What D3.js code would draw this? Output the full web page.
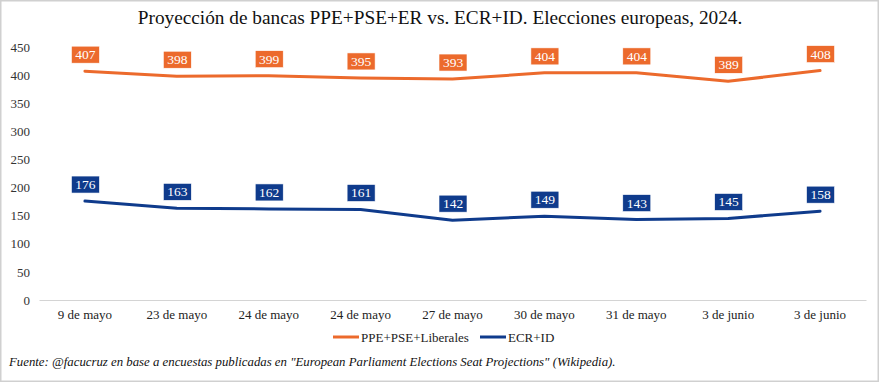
<!DOCTYPE html>
<html><head><meta charset="utf-8">
<script src="https://cdn.jsdelivr.net/npm/d3@7"></script>
<style>body{margin:0;background:#fff}svg{display:block}svg text{font-family:"Liberation Serif","DejaVu Serif",serif}</style>
</head><body>
<script>
const categories = ["9 de mayo","23 de mayo","24 de mayo","24 de mayo","27 de mayo","30 de mayo","31 de mayo","3 de junio","3 de junio"];
const ppe = [407,398,399,395,393,404,404,389,408];
const ecr = [176,163,162,161,142,149,143,145,158];
const yTicks = [0,50,100,150,200,250,300,350,400,450];
const seriesNames = ["PPE+PSE+Liberales","ECR+ID"];
const colors = ["#EC6A2C","#0F3B8C"];

const W=880,H=383;
const svg=d3.select("body").append("svg").attr("width",W).attr("height",H);
svg.append("rect").attr("x",0.75).attr("y",0.75).attr("width",W-2.5).attr("height",H-2.5).attr("fill","#fff").attr("stroke","#d0d0d0").attr("stroke-width",1.5);

const x=d3.scaleBand().domain(d3.range(categories.length)).range([39,866]);
const y=d3.scaleLinear().domain([0,450]).range([300,47]);

svg.append("text").attr("x",440).attr("y",24).attr("text-anchor","middle")
  .attr("font-size",19.3).attr("fill","#111")
  .text("Proyección de bancas PPE+PSE+ER vs. ECR+ID. Elecciones europeas, 2024.");

const ya=svg.append("g").attr("transform","translate(30,0)")
  .call(d3.axisLeft(y).tickValues(yTicks).tickSize(0).tickPadding(0));
ya.select(".domain").remove();
ya.selectAll("text").attr("font-size",13).attr("fill","#333");

const xa=svg.append("g").attr("transform","translate(0,300)")
  .call(d3.axisBottom(x).tickFormat(i=>categories[i]).tickSize(0).tickPadding(10));
xa.select(".domain").attr("stroke","#d4d4d4").attr("stroke-width",1);
xa.selectAll("text").attr("font-size",13).attr("fill","#222");

const line=d3.line().x((d,i)=>x(i)+x.bandwidth()/2).y(d=>y(d));
[ppe,ecr].forEach((s,k)=>{
  svg.append("path").datum(s).attr("d",line).attr("fill","none")
    .attr("stroke",colors[k]).attr("stroke-width",3).attr("stroke-linejoin","round").attr("stroke-linecap","round");
  const g=svg.append("g");
  s.forEach((v,i)=>{
    const cx=x(i)+x.bandwidth()/2, cy=y(v);
    const bw=28,bh=17;
    g.append("rect").attr("x",cx-bw/2+0.5).attr("y",cy-8-bh).attr("width",bw).attr("height",bh)
      .attr("fill",colors[k]).attr("stroke","#fff").attr("stroke-width",0.6);
    g.append("text").attr("x",cx+0.5).attr("y",cy-8-bh/2+4.5).attr("text-anchor","middle")
      .attr("font-size",13.5).attr("fill","#fff").text(v);
  });
});

const leg=[{x:333,name:seriesNames[0],c:colors[0]},{x:480,name:seriesNames[1],c:colors[1]}];
leg.forEach(l=>{
  svg.append("line").attr("x1",l.x).attr("x2",l.x+26).attr("y1",337).attr("y2",337)
    .attr("stroke",l.c).attr("stroke-width",3);
  svg.append("text").attr("x",l.x+28).attr("y",341.5).attr("font-size",13)
    .attr("fill","#222").text(l.name);
});

svg.append("text").attr("x",9).attr("y",366).attr("font-size",12.8)
  .attr("font-style","italic").attr("fill","#111")
  .text("Fuente: @facucruz en base a encuestas publicadas en \"European Parliament Elections Seat Projections\" (Wikipedia).");
</script>
</body></html>
